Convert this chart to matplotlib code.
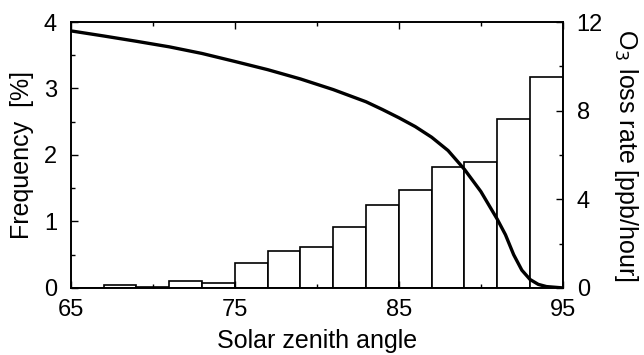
import matplotlib
matplotlib.use('Agg')
import matplotlib.pyplot as plt
from matplotlib.ticker import MultipleLocator

plt.rcParams['font.family'] = ['Liberation Sans', 'DejaVu Sans']

# histogram of solar zenith angle (2 degree bins)
bin_left = [65, 67, 69, 71, 73, 75, 77, 79, 81, 83, 85, 87, 89, 91, 93]
frequency = [0.0, 0.05, 0.02, 0.10, 0.08, 0.38, 0.56, 0.62, 0.92, 1.24,
             1.47, 1.82, 1.90, 2.54, 3.18]

# ozone loss rate curve
sza = [65, 67, 69, 71, 73, 75, 77, 79, 81, 83, 84, 85, 86, 87, 88, 89, 90,
       91, 91.5, 92, 92.5, 93, 93.5, 94, 95]
loss_rate = [11.6, 11.37, 11.13, 10.88, 10.58, 10.22, 9.85, 9.43, 8.95, 8.4,
             8.05, 7.68, 7.28, 6.8, 6.2, 5.35, 4.35, 3.1, 2.4, 1.5, 0.8,
             0.38, 0.16, 0.06, 0.0]

x_ticks = [65, 75, 85, 95]
x_minor = [70, 80, 90]

fig = plt.figure(figsize=(6.44, 3.55), dpi=100)
ax = fig.add_axes([0.110, 0.189, 0.764, 0.749])

ax.bar(bin_left, frequency, width=2, align='edge', facecolor='white',
       edgecolor='black', linewidth=1.2)
ax.set_xlim(65, 95)
ax.set_ylim(0, 4)
ax.set_xticks(x_ticks)
ax.set_xticks(x_minor, minor=True)
ax.yaxis.set_major_locator(MultipleLocator(1))
ax.yaxis.set_minor_locator(MultipleLocator(0.5))
ax.tick_params(which='both', direction='in', top=True, labelsize=17,
               width=1.0)
ax.tick_params(which='major', length=5)
ax.tick_params(which='minor', length=3)
ax.tick_params(axis='x', pad=8)
ax.tick_params(axis='y', right=False, pad=10)
ax.set_xlabel('Solar zenith angle', fontsize=18)
ax.set_ylabel('Frequency  [%]', fontsize=18)
ax.xaxis.set_label_coords(0.5, -0.155)
ax.yaxis.set_label_coords(-0.075, 0.5)

ax2 = ax.twinx()
ax2.plot(sza, loss_rate, color='black', linewidth=2.4)
ax2.set_ylim(0, 12)
ax2.yaxis.set_major_locator(MultipleLocator(4))
ax2.yaxis.set_minor_locator(MultipleLocator(2))
ax2.tick_params(which='both', direction='in', labelsize=17, width=1.0,
                pad=10)
ax2.tick_params(which='major', length=5)
ax2.tick_params(which='minor', length=3)
ax2.set_ylabel('O$_3$ loss rate [ppb/hour]', fontsize=18, rotation=270,
               va='bottom')
ax2.yaxis.set_label_coords(1.10, 0.5)

for a in (ax, ax2):
    for s in a.spines.values():
        s.set_linewidth(1.2)

fig.savefig('out.png', dpi=100)
